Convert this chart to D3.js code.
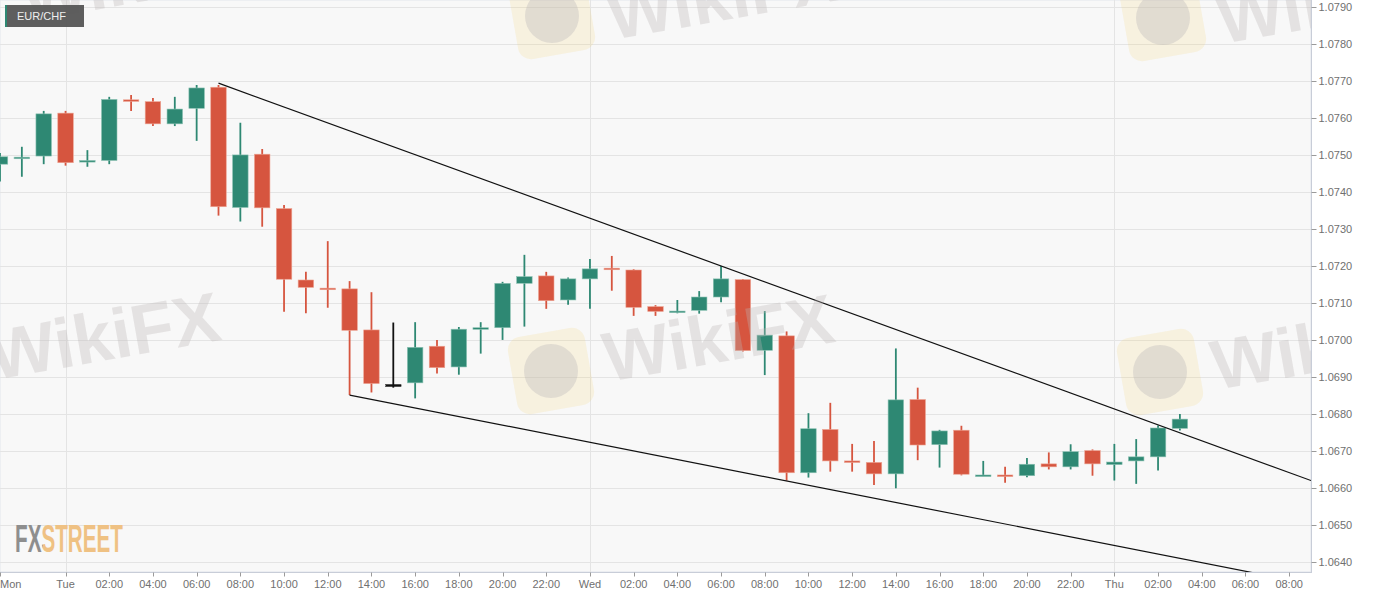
<!DOCTYPE html>
<html>
<head>
<meta charset="utf-8">
<script src="https://cdn.jsdelivr.net/npm/d3@7/dist/d3.min.js"></script>
<style>
  html, body { margin: 0; padding: 0; background: #ffffff; }
  svg { display: block; }
  text { font-family: "Liberation Sans", Arial, sans-serif; }
</style>
</head>
<body>
<svg id="chart" width="1387" height="598"></svg>
<script>
// ---------------- DATA ----------------
const symbol = "EUR/CHF";
const times = [
  "2021-03-01T21:00Z","2021-03-01T22:00Z","2021-03-01T23:00Z",
  "2021-03-02T00:00Z","2021-03-02T01:00Z","2021-03-02T02:00Z","2021-03-02T03:00Z","2021-03-02T04:00Z","2021-03-02T05:00Z",
  "2021-03-02T06:00Z","2021-03-02T07:00Z","2021-03-02T08:00Z","2021-03-02T09:00Z","2021-03-02T10:00Z","2021-03-02T11:00Z",
  "2021-03-02T12:00Z","2021-03-02T13:00Z","2021-03-02T14:00Z","2021-03-02T15:00Z","2021-03-02T16:00Z","2021-03-02T17:00Z",
  "2021-03-02T18:00Z","2021-03-02T19:00Z","2021-03-02T20:00Z","2021-03-02T21:00Z","2021-03-02T22:00Z","2021-03-02T23:00Z",
  "2021-03-03T00:00Z","2021-03-03T01:00Z","2021-03-03T02:00Z","2021-03-03T03:00Z","2021-03-03T04:00Z","2021-03-03T05:00Z",
  "2021-03-03T06:00Z","2021-03-03T07:00Z","2021-03-03T08:00Z","2021-03-03T09:00Z","2021-03-03T10:00Z","2021-03-03T11:00Z",
  "2021-03-03T12:00Z","2021-03-03T13:00Z","2021-03-03T14:00Z","2021-03-03T15:00Z","2021-03-03T16:00Z","2021-03-03T17:00Z",
  "2021-03-03T18:00Z","2021-03-03T19:00Z","2021-03-03T20:00Z","2021-03-03T21:00Z","2021-03-03T22:00Z","2021-03-03T23:00Z",
  "2021-03-04T00:00Z","2021-03-04T01:00Z","2021-03-04T02:00Z","2021-03-04T03:00Z"
];
const open = [
  1.07476,1.07492,1.07498,
  1.07614,1.07483,1.07486,1.07650,1.07645,1.07585,
  1.07627,1.07684,1.07359,1.07503,1.07356,1.07163,
  1.07141,1.07139,1.07028,1.06880,1.06885,1.06984,
  1.06928,1.07030,1.07034,1.07154,1.07174,1.07109,
  1.07166,1.07195,1.07190,1.07091,1.07076,1.07081,
  1.07117,1.07164,1.06973,1.07012,1.06642,1.06759,
  1.06674,1.06670,1.06639,1.06840,1.06718,1.06757,
  1.06634,1.06636,1.06634,1.06666,1.06658,1.06702,
  1.06664,1.06674,1.06685,1.06762
];
const high = [
  1.07506,1.07523,1.07620,
  1.07620,1.07514,1.07658,1.07663,1.07655,1.07658,
  1.07690,1.07690,1.07588,1.07517,1.07366,1.07185,
  1.07268,1.07160,1.07130,1.07048,1.07049,1.07001,
  1.07036,1.07049,1.07158,1.07231,1.07185,1.07170,
  1.07220,1.07228,1.07192,1.07095,1.07109,1.07133,
  1.07201,1.07166,1.07079,1.07024,1.06803,1.06831,
  1.06720,1.06728,1.06978,1.06872,1.06758,1.06769,
  1.06674,1.06658,1.06682,1.06697,1.06719,1.06705,
  1.06720,1.06733,1.06770,1.06801
];
const low = [
  1.07429,1.07442,1.07476,
  1.07472,1.07469,1.07476,1.07620,1.07579,1.07579,
  1.07539,1.07337,1.07321,1.07307,1.07077,1.07073,
  1.07088,1.06852,1.06859,1.06872,1.06843,1.06910,
  1.06907,1.06964,1.07001,1.07037,1.07085,1.07096,
  1.07085,1.07134,1.07066,1.07066,1.07073,1.07072,
  1.07103,1.06970,1.06906,1.06621,1.06629,1.06645,
  1.06645,1.06609,1.06600,1.06676,1.06656,1.06635,
  1.06633,1.06615,1.06630,1.06651,1.06651,1.06634,
  1.06621,1.06612,1.06648,1.06756
];
const close = [
  1.07496,1.07495,1.07612,
  1.07480,1.07486,1.07651,1.07647,1.07585,1.07625,
  1.07682,1.07361,1.07501,1.07358,1.07165,1.07143,
  1.07138,1.07027,1.06883,1.06880,1.06981,1.06926,
  1.07030,1.07034,1.07154,1.07172,1.07107,1.07166,
  1.07193,1.07191,1.07089,1.07078,1.07079,1.07117,
  1.07166,1.06972,1.07014,1.06642,1.06761,1.06674,
  1.06670,1.06639,1.06839,1.06717,1.06755,1.06638,
  1.06636,1.06633,1.06665,1.06658,1.06699,1.06666,
  1.06671,1.06685,1.06763,1.06787
];
// trend lines (time, price)
const upperTrendTimes = ["2021-03-02T07:00Z", "2021-03-04T09:00Z"];
const upperTrendValues = [1.07695, 1.06621];
const lowerTrendTimes = ["2021-03-02T13:00Z", "2021-03-04T09:00Z"];
const lowerTrendValues = [1.06852, 1.06341];
// axis
const xDomain = ["2021-03-01T21:00Z", "2021-03-04T09:00Z"];
const yTicks = [1.0640,1.0650,1.0660,1.0670,1.0680,1.0690,1.0700,1.0710,1.0720,1.0730,1.0740,1.0750,1.0760,1.0770,1.0780,1.0790];
const dayLabels = ["Sun","Mon","Tue","Wed","Thu","Fri","Sat"];
const brandText = "FXSTREET";
const watermarkText = "WikiFX";

// ---------------- LAYOUT ----------------
const svg = d3.select("#chart");
const plotW = 1311, plotH = 572;
const x = d3.scaleUtc().domain(xDomain.map(d => new Date(d))).range([0, plotW]);
const y = d3.scaleLinear().domain([1.0640, 1.0790]).range([562.3, 7.3]);

const colUp = "#2e8873", colDown = "#d6553f", colFlat = "#111111";

const defs = svg.append("defs");
defs.append("clipPath").attr("id", "plotClip")
  .append("rect").attr("x", 0).attr("y", 0).attr("width", plotW).attr("height", plotH);
const grad = defs.append("linearGradient").attr("id", "brandGrad")
  .attr("gradientUnits", "userSpaceOnUse").attr("x1", 15).attr("x2", 123).attr("y1", 0).attr("y2", 0);
grad.append("stop").attr("offset", 0.255).attr("stop-color", "#8e8e8e");
grad.append("stop").attr("offset", 0.255).attr("stop-color", "#efc183");

svg.append("rect").attr("x", 0).attr("y", 0).attr("width", plotW).attr("height", plotH)
  .attr("fill", "#f8f8f8").attr("stroke", "#e1e5ec").attr("stroke-width", 1);

// grid
const grid = svg.append("g");
grid.selectAll("line.h").data(yTicks).join("line")
  .attr("x1", 0).attr("x2", plotW)
  .attr("y1", d => Math.round(y(d)) + 0.5).attr("y2", d => Math.round(y(d)) + 0.5)
  .attr("stroke", "#e4e4e4").attr("stroke-width", 1);
const dayStarts = ["2021-03-02T00:00Z","2021-03-03T00:00Z","2021-03-04T00:00Z"].map(d => new Date(d));
grid.selectAll("line.v").data(dayStarts).join("line")
  .attr("x1", d => Math.round(x(d)) + 0.5).attr("x2", d => Math.round(x(d)) + 0.5)
  .attr("y1", 0).attr("y2", plotH)
  .attr("stroke", "#e4e4e4").attr("stroke-width", 1);

// FXSTREET logo (single text, two-colour fill)
svg.append("text").attr("x", 15).attr("y", 552)
  .attr("font-family", "'Liberation Sans Narrow', 'DejaVu Sans Condensed', sans-serif")
  .attr("font-weight", "bold").attr("font-size", 38)
  .attr("fill", "url(#brandGrad)")
  .attr("textLength", 108).attr("lengthAdjust", "spacingAndGlyphs")
  .text(brandText);

// candles
const candles = times.map((t, i) => ({ t: new Date(t), o: open[i], h: high[i], l: low[i], c: close[i] }));
const bw = 15.5;
const cg = svg.append("g").attr("clip-path", "url(#plotClip)");
const color = d => d.c > d.o ? colUp : (d.c < d.o ? colDown : colFlat);
cg.selectAll("line.wick").data(candles).join("line")
  .attr("x1", d => x(d.t)).attr("x2", d => x(d.t))
  .attr("y1", d => y(d.h)).attr("y2", d => y(d.l))
  .attr("stroke", color).attr("stroke-width", 1.8);
cg.selectAll("rect.body").data(candles).join("rect")
  .attr("x", d => x(d.t) - bw / 2).attr("width", bw)
  .attr("y", d => Math.min(y(d.o), y(d.c)))
  .attr("height", d => Math.max(1.6, Math.abs(y(d.o) - y(d.c))))
  .attr("fill", color)
  .attr("stroke", d => d.c > d.o ? "#8cc2b3" : (d.c < d.o ? "#eda594" : colFlat))
  .attr("stroke-width", 0.6);

// trend lines
const tl = svg.append("g").attr("clip-path", "url(#plotClip)");
const lineGen = d3.line().x(d => x(d[0])).y(d => y(d[1]));
tl.append("path").datum(upperTrendTimes.map((t, i) => [new Date(t), upperTrendValues[i]]))
  .attr("d", lineGen).attr("fill", "none").attr("stroke", "#111").attr("stroke-width", 1.2);
tl.append("path").datum(lowerTrendTimes.map((t, i) => [new Date(t), lowerTrendValues[i]]))
  .attr("d", lineGen).attr("fill", "none").attr("stroke", "#111").attr("stroke-width", 1.2);

// watermarks (drawn over the plot, as in the picture)
const wm = svg.append("g").attr("clip-path", "url(#plotClip)").style("pointer-events", "none");
const wmLogo = [[551, 371], [1160, 372], [552, 16], [1163, 18]];
wmLogo.forEach(([cx, cy]) => {
  wm.append("rect").attr("x", cx - 39).attr("y", cy - 39).attr("width", 78).attr("height", 78)
    .attr("rx", 13).attr("transform", `rotate(-10,${cx},${cy})`)
    .attr("fill", "#f2cc5e").attr("fill-opacity", 0.16);
  wm.append("circle").attr("cx", cx).attr("cy", cy).attr("r", 27)
    .attr("fill", "#b8b4b8").attr("fill-opacity", 0.35);
});
const wmText = [[-6, 380], [608, 382], [1216, 390], [612, 40], [1222, 44], [26, 22]];
wmText.forEach(([tx, ty]) => {
  wm.append("text").attr("transform", `translate(${tx},${ty}) rotate(-10)`)
    .attr("font-size", 70).attr("font-weight", "bold")
    .attr("font-family", "'Liberation Sans', Arial, sans-serif")
    .attr("fill", "#bdb7b7").attr("fill-opacity", 0.33).text(watermarkText);
});

// y axis
const yAxis = svg.append("g").attr("transform", `translate(${plotW + 0.5},0)`);
yAxis.append("line").attr("x1", 0).attr("x2", 0).attr("y1", 0).attr("y2", plotH)
  .attr("stroke", "#c8cdd8");
yAxis.selectAll("line.t").data(yTicks).join("line")
  .attr("x1", 0).attr("x2", 5)
  .attr("y1", d => Math.round(y(d)) + 0.5).attr("y2", d => Math.round(y(d)) + 0.5)
  .attr("stroke", "#9a9a9a");
yAxis.selectAll("text").data(yTicks).join("text")
  .attr("x", 7).attr("y", d => y(d)).attr("dy", "0.35em")
  .attr("font-size", 11).attr("fill", "#707070")
  .text(d => d3.format(".4f")(d));

// x axis
const xTicks = [new Date(xDomain[0])].concat(
  d3.utcHour.every(2).range(new Date("2021-03-02T00:00Z"), new Date("2021-03-04T09:00Z")));
const xAxis = svg.append("g").attr("transform", `translate(0,${plotH + 0.5})`);
xAxis.append("line").attr("x1", 0).attr("x2", plotW + 1).attr("y1", 0).attr("y2", 0)
  .attr("stroke", "#c8cdd8");
xAxis.selectAll("line.t").data(xTicks).join("line")
  .attr("x1", d => Math.round(x(d)) + 0.5).attr("x2", d => Math.round(x(d)) + 0.5)
  .attr("y1", 0).attr("y2", 4).attr("stroke", "#9a9a9a");
xAxis.selectAll("text").data(xTicks).join("text")
  .attr("x", d => x(d)).attr("y", 15)
  .attr("text-anchor", (d, i) => i === 0 ? "start" : "middle")
  .attr("font-size", 11).attr("fill", "#707070")
  .text((d, i) => (i === 0 || d.getUTCHours() === 0) ? dayLabels[d.getUTCDay()] : d3.utcFormat("%H:%M")(d));

// symbol label
const lab = svg.append("g");
lab.append("rect").attr("x", 5).attr("y", 5).attr("width", 79).attr("height", 22)
  .attr("fill", "#555555").attr("fill-opacity", 0.95);
lab.append("rect").attr("x", 5).attr("y", 5).attr("width", 2).attr("height", 22)
  .attr("fill", "#2e8873");
lab.append("text").attr("x", 17).attr("y", 20).attr("font-size", 11)
  .attr("fill", "#eeeeee").text(symbol);
</script>
</body>
</html>
